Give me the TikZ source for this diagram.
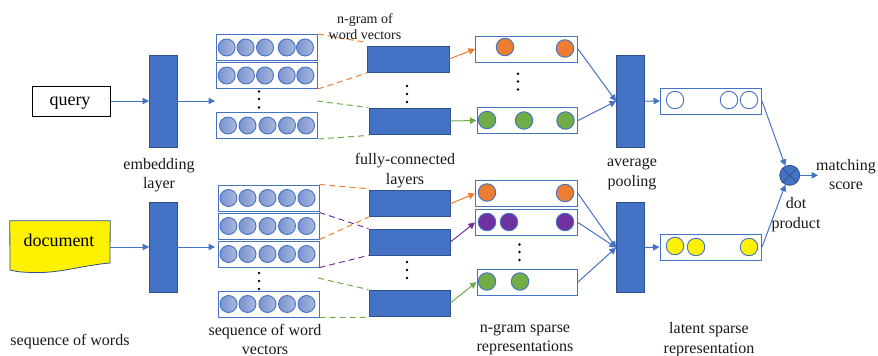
\documentclass[tikz,border=0pt]{standalone}
\usepackage{fontspec}
\setmainfont{Liberation Serif}
\usetikzlibrary{arrows.meta}
\definecolor{bl}{HTML}{4472C4}
\definecolor{bld}{HTML}{2F528F}
\definecolor{org}{HTML}{ED7D31}
\definecolor{grn}{HTML}{70AD47}
\definecolor{pur}{HTML}{7030A0}
\definecolor{wl}{HTML}{7A93CF}
\definecolor{wr}{HTML}{AAB9DE}
\tikzset{
  block/.style={draw=bld,line width=0.8pt,fill=bl,inner sep=0pt,minimum width=#1},
  rowbox/.style={draw=bl,line width=1pt,fill=white,inner sep=0pt},
  wordc/.style={circle,draw=bl,line width=0.9pt,left color=wl,right color=wr,inner sep=0pt,minimum size=17pt},
  spc/.style={circle,draw=bl,line width=0.9pt,fill=#1,inner sep=0pt,minimum size=17.5pt},
  arr/.style={draw=#1,line width=1pt,-{Triangle[length=6.5pt,width=6.5pt]}},
  dash/.style={draw=#1,line width=1pt,dash pattern=on 6pt off 4pt},
  lab/.style={align=center,inner sep=0pt,font=\fontsize{16}{19.5}\selectfont,text=black!90},
  vdot/.style={circle,fill=black,inner sep=0pt,minimum size=2.8pt},
}
\begin{document}
\begin{tikzpicture}[x=1pt,y=-1pt]
\useasboundingbox (0,0) rectangle (878,356);
% query and document
\node[draw=black,line width=1pt,fill=white,minimum width=78pt,minimum height=30pt,inner sep=0pt] (query) at (71,101) {};
\node[inner sep=0pt,font=\fontsize{18}{20}\selectfont,anchor=base] (querytext) at (70,105.5) {query};
\node[minimum width=100pt,minimum height=52pt,inner sep=0pt] (doc) at (60,247) {};
\draw[draw=bld,line width=0.8pt,fill=yellow] (doc.north west) -- (doc.north east) -- (110,263) .. controls (85,265) and (60,273) .. (37,272.5) .. controls (25,272.5) and (17,272) .. (10,270) -- cycle;
\node[inner sep=0pt,font=\fontsize{18}{20}\selectfont,anchor=base] (doctext) at (59,246.5) {document};
% embedding
\node[block=27.5pt,minimum height=92pt] (embq) at (163.2,101) {};
\node[block=27.5pt,minimum height=90pt] (embd) at (163.2,247.3) {};
% word rows
\foreach \n/\x/\y/\w/\cs in {
 q1/216/47.5/101/{226.7,245.6,265,286.7,305},
 q2/216/75.5/101/{226.7,246,265,286.7,305.3},
 q3/216/125.5/101/{228,247.5,267.5,287,306},
 d1/217.5/198/101/{228.5,247.5,267.5,287,306.5},
 d2/217.5/226/101/{228.5,247.5,267.5,287,306.5},
 d3/217.5/254/101/{228.5,247.5,267.5,287,306.5},
 d4/217.5/304/101/{228.5,247.5,267.5,287,306.5}}{
  \node[rowbox,anchor=west,minimum width=\w pt,minimum height=26pt] (row\n) at (\x,\y) {};
  \foreach \c [count=\i] in \cs { \node[wordc] (w\n\i) at (\c,\y) {}; }
}
% fully connected
\node[block=81.5pt,minimum height=26pt] (fq1) at (408.2,59) {};
\node[block=81pt,minimum height=26pt] (fq2) at (409.5,121) {};
\node[block=81pt,minimum height=26pt] (fd1) at (409.5,203.7) {};
\node[block=81pt,minimum height=26pt] (fd2) at (409.5,242) {};
\node[block=81pt,minimum height=26pt] (fd3) at (409.5,303) {};
% sparse rows
\foreach \n/\x/\y/\w in {sq1/475/49/102,sq2/476.5/120.5/100.5,sd1/475/193.5/102,sd2/475/222.5/102,sd3/476.5/282/100.5}{
  \node[rowbox,anchor=west,minimum width=\w pt,minimum height=26pt] (\n) at (\x,\y) {};
}
\node[spc=org] (a1) at (505,47) {};
\node[spc=org] (a2) at (565,48.5) {};
\node[spc=grn] (a3) at (487,120) {};
\node[spc=grn] (a4) at (524,120.5) {};
\node[spc=grn] (a5) at (565.5,120.5) {};
\node[spc=org] (a6) at (487,192.5) {};
\node[spc=org] (a7) at (565,193) {};
\node[spc=pur] (a8) at (487,222) {};
\node[spc=pur] (a9) at (509,222) {};
\node[spc=pur] (a10) at (565,222) {};
\node[spc=grn] (a11) at (487,281.5) {};
\node[spc=grn] (a12) at (520,281.5) {};
% pooling
\node[block=27.5pt,minimum height=91.5pt] (poolq) at (630.2,101.2) {};
\node[block=27.5pt,minimum height=90.5pt] (poold) at (630.2,247.6) {};
% latent
\node[rowbox,anchor=west,minimum width=101pt,minimum height=26pt] (lq) at (660,101) {};
\node[rowbox,anchor=west,minimum width=101.5pt,minimum height=26pt] (ld) at (659.5,247) {};
\node[spc=white] (b1) at (675,100) {};
\node[spc=white] (b2) at (729,100) {};
\node[spc=white] (b3) at (749,100) {};
\node[spc=yellow] (b4) at (675,246) {};
\node[spc=yellow] (b5) at (696,247) {};
\node[spc=yellow] (b6) at (749,247) {};
% dot product
\node[circle,draw=bld,line width=0.8pt,fill=bl,minimum size=20pt,inner sep=0pt] (dotp) at (789.7,175.3) {};
\draw[bld,line width=0.7pt] (dotp.45) -- (dotp.225) (dotp.135) -- (dotp.315);
\coordinate (score) at (818,175.3);
% free ends
\coordinate (gq) at (317,101);
\coordinate (gd) at (318,278);
% dashed connectors
\draw[dash=org] (rowq1.north east) -- ([yshift=3pt]fq1.north west);
\draw[dash=org] (rowq2.south east) -- ([yshift=-0.5pt]fq1.south west);
\draw[dash=grn] (gq) -- (fq2.north west);
\draw[dash=grn] (rowq3.south east) -- ([yshift=-1pt]fq2.south west);
\draw[dash=org] (rowd1.north east) -- ([yshift=1.5pt]fd1.north west);
\draw[dash=org] (rowd2.south east) -- (fd1.south west);
\draw[dash=pur] (rowd2.north east) -- (fd2.north west);
\draw[dash=pur] (rowd3.south east) -- (fd2.south west);
\draw[dash=grn] (gd) -- (fd3.north west);
\draw[dash=grn] (rowd4.south east) -- ([yshift=-1pt]fd3.south west);
% arrows
\coordinate (qin) at (215,101);
\coordinate (din) at (215,247);
\draw[arr=bl] (query) -- (embq);
\draw[arr=bl] (embq) -- (qin);
\draw[arr=bl] (doc.east) -- (embd.west |- doc.east);
\draw[arr=bl] (embd.east |- doc.east) -- (din);
\draw[arr=org] (fq1.east) -- (sq1.west);
\draw[arr=grn] (fq2.east) -- (sq2.west);
\draw[arr=org] (fd1.east) -- (sd1.west);
\draw[arr=pur] (fd2.east) -- (sd2.west);
\draw[arr=grn] (fd3.east) -- (sd3.west);
\foreach \s in {sq1,sq2}{ \draw[arr=bl] (\s.east) -- (poolq.west); }
\foreach \s in {sd1,sd2,sd3}{ \draw[arr=bl] (\s.east) -- (poold.west); }
\draw[arr=bl] (poolq.east) -- (lq.west);
\draw[arr=bl] (poold.east) -- (ld.west);
\draw[arr=bl] (lq.east) -- (dotp.115);
\draw[arr=bl] (ld.east) -- (dotp.245);
\draw[arr=bl] (dotp.east) -- (score);
% vertical dots
\foreach \n/\x/\a/\b/\c in {v1/259/91.5/99/107.5,v2/407/86/94/102,v3/518/73.7/81.5/89.5,v4/259/273/281/289,v5/407/262/270/278,v6/519.5/244.5/252/260}{
  \node[vdot] (\n a) at (\x,\a) {};
  \node[vdot] (\n b) at (\x,\b) {};
  \node[vdot] (\n c) at (\x,\c) {};
}
% labels
\node[lab,font=\fontsize{14}{16}\selectfont] (t1) at (365,27) {n-gram of\\word vectors};
\node[lab] (t2) at (159,175) {embedding\\layer};
\node[lab] (t3) at (405,170.5) {fully-connected\\layers};
\node[lab] (t4) at (632,174) {average\\pooling};
\node[lab] (t5) at (846,174.5) {matching\\score};
\node[lab] (t6) at (796,214.5) {dot\\product};
\node[lab] (t7) at (70,342) {sequence of words};
\node[lab] (t8) at (265,339.5) {sequence of word\\vectors};
\node[lab] (t9) at (525,339.5) {n-gram sparse\\representations};
\node[lab] (t10) at (709,339.5) {latent sparse\\representation};
\end{tikzpicture}
\end{document}
